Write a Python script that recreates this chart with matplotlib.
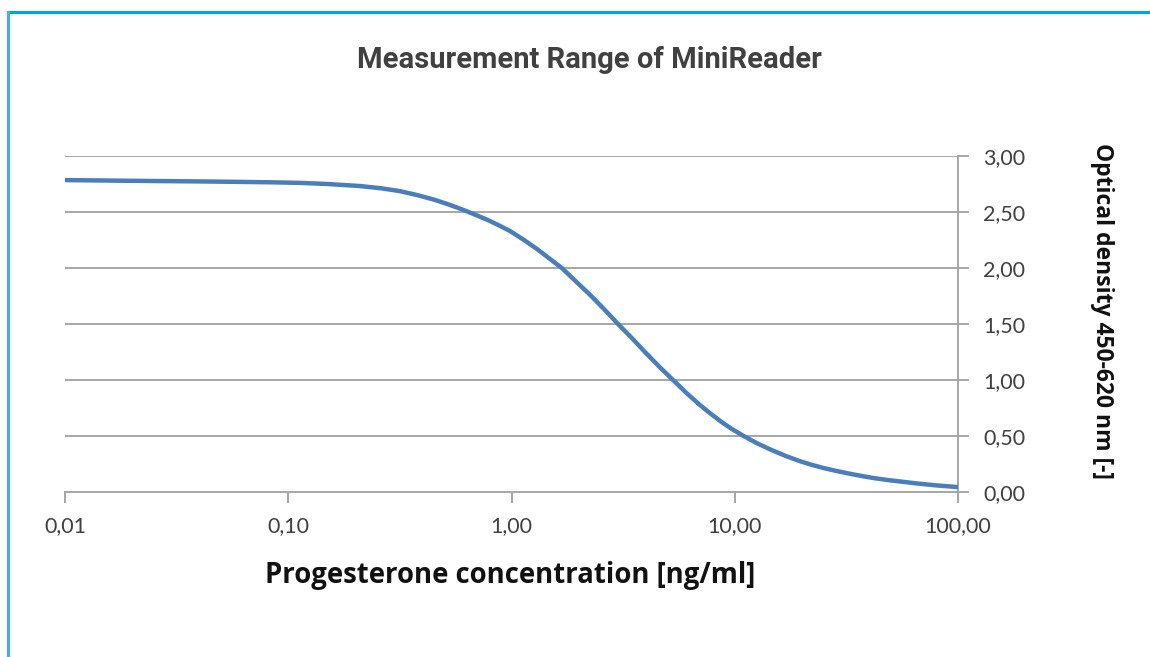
import matplotlib
matplotlib.use("Agg")
import matplotlib.pyplot as plt
from matplotlib.lines import Line2D
from matplotlib.ticker import FixedLocator, NullLocator

# Data
concentration = [0.010, 0.017, 0.024, 0.040, 0.060, 0.085, 0.113, 0.150, 0.209,
                 0.260, 0.317, 0.380, 0.450, 0.520, 0.588, 0.680, 0.780, 0.880,
                 0.985, 1.13, 1.30, 1.48, 1.68, 1.95, 2.25, 2.60, 3.00, 3.45,
                 3.96, 4.60, 5.29, 6.10, 6.98, 7.80, 8.70, 9.70, 10.9, 12.5,
                 14.5, 17.0, 19.6, 22.0, 25.0, 28.5, 32.8, 37.0, 42.0, 48.0,
                 55.0, 65.0, 80.0, 100.0]
optical_density = [2.785, 2.780, 2.777, 2.773, 2.769, 2.765, 2.760, 2.750, 2.732,
                   2.712, 2.686, 2.650, 2.610, 2.569, 2.530, 2.480, 2.430, 2.380,
                   2.330, 2.254, 2.170, 2.084, 2.000, 1.877, 1.760, 1.632, 1.500, 1.377,
                   1.250, 1.117, 1.000, 0.881, 0.777, 0.699, 0.627, 0.563, 0.503, 0.438,
                   0.378, 0.320, 0.275, 0.244, 0.214, 0.188, 0.163, 0.143, 0.124, 0.108,
                   0.094, 0.077, 0.059, 0.044]

x_ticks = [0.01, 0.1, 1, 10, 100]
x_tick_labels = ["0,01", "0,10", "1,00", "10,00", "100,00"]
y_ticks = [0.0, 0.5, 1.0, 1.5, 2.0, 2.5, 3.0]
y_tick_labels = ["0,00", "0,50", "1,00", "1,50", "2,00", "2,50", "3,00"]

title = "Measurement Range of MiniReader"
x_label = "Progesterone concentration [ng/ml]"
y_label = "Optical density 450-620 nm [-]"

W, H = 1150, 657
fig = plt.figure(figsize=(W / 100, H / 100), dpi=100)
fig.patch.set_facecolor("white")

ax = fig.add_axes([65 / W, (H - 492) / H, (958 - 65) / W, (492 - 156) / H])
ax.set_xscale("log")
ax.set_xlim(0.01, 100)
ax.set_ylim(0, 3)

grid_color = "#a6a6a6"
for yv in y_ticks[1:]:
    ax.axhline(yv, color=grid_color, lw=1.4, zorder=1)

ax.plot(concentration, optical_density, color="#4a7ebb", lw=3.2,
        solid_capstyle="butt", solid_joinstyle="round", zorder=3)

for side in ["left", "top"]:
    ax.spines[side].set_visible(False)
ax.spines["right"].set_color(grid_color)
ax.spines["right"].set_linewidth(1.4)
ax.spines["bottom"].set_color(grid_color)
ax.spines["bottom"].set_linewidth(1.4)

ax.yaxis.tick_right()
ax.xaxis.set_major_locator(FixedLocator(x_ticks))
ax.xaxis.set_minor_locator(NullLocator())
ax.set_xticklabels(x_tick_labels)
ax.set_yticks(y_ticks)
ax.set_yticklabels(y_tick_labels)
ax.tick_params(axis="x", direction="out", length=8, width=1.4, color=grid_color,
               labelsize=15.5, labelcolor="#404040", pad=9)
ax.tick_params(axis="y", direction="out", length=8, width=1.4, color=grid_color,
               labelsize=15.5, labelcolor="#404040", pad=10)
for lab in ax.get_xticklabels() + ax.get_yticklabels():
    lab.set_fontfamily(["Lato", "DejaVu Sans"])

fig.text(510 / W, 1 - 576 / H, x_label, ha="center", va="center", fontsize=19.8,
         fontweight="bold", family=["Open Sans", "DejaVu Sans"], color="#111111")
fig.text(1102 / W, 1 - 311 / H, y_label, ha="center", va="center", fontsize=16.5,
         fontweight="bold", rotation=-90, family=["Open Sans", "DejaVu Sans"],
         color="#111111")

fig.text(589 / W, 1 - 60 / H, title, ha="center", va="center", fontsize=21,
         fontweight="bold", color="#404040", family=["Roboto", "DejaVu Sans"])

# Light blue frame (top and left edges)
fig.add_artist(Line2D([8 / W, 1.0], [1 - 12 / H, 1 - 12 / H], color="#00a2e8", lw=2.2,
                      transform=fig.transFigure))
fig.add_artist(Line2D([8 / W, 8 / W], [0.0, 1 - 12 / H], color="#3fb1e5", lw=2.2,
                      transform=fig.transFigure))

fig.savefig("out.png", dpi=100, facecolor="white")
